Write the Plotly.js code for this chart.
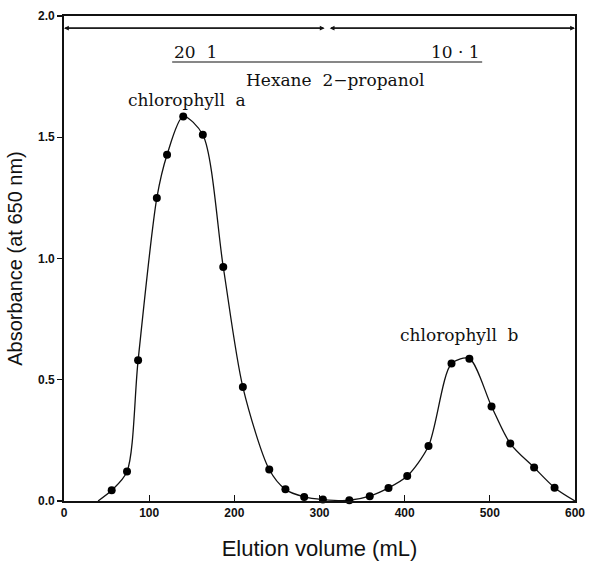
<!DOCTYPE html>
<html>
<head>
<meta charset="utf-8">
<script src="https://cdn.plot.ly/plotly-3.0.1.min.js"></script>
<style>html,body{margin:0;padding:0;background:#fff;}#chart{width:589px;height:568px;}</style>
</head>
<body>
<div id="chart"></div>
<script>
// Measured fractions: elution volume (mL) and absorbance at 650 nm
const elutionVolume = [56, 74, 87, 109, 121, 140, 163, 187, 210, 241, 260, 282, 304,
                       335, 359, 381, 403, 428, 455, 476, 502, 524, 552, 576];
const absorbance    = [0.044, 0.122, 0.58, 1.25, 1.428, 1.586, 1.51, 0.965, 0.47, 0.13, 0.048, 0.017, 0.006,
                       0.003, 0.02, 0.054, 0.103, 0.227, 0.567, 0.587, 0.39, 0.237, 0.138, 0.055];
// Curve end points (where the trace meets the baseline)
const curveStartX = [40],  curveStartY = [0];
const curveEndX   = [600], curveEndY   = [0];
// Axis ticks
const xTicks = [0, 100, 200, 300, 400, 500, 600];
const yTicks = [0, 0.5, 1.0, 1.5, 2.0];

const curveX = curveStartX.concat(elutionVolume, curveEndX);
const curveY = curveStartY.concat(absorbance, curveEndY);

const serif = {family: 'DejaVu Serif, Liberation Serif, serif', size: 17, color: '#111'};
const nb = '\u00a0';

const traces = [
  {x: curveX, y: curveY, mode: 'lines', type: 'scatter',
   line: {color: '#111', width: 1.3, shape: 'spline', smoothing: 0.8},
   hoverinfo: 'skip', showlegend: false, cliponaxis: true},
  {x: elutionVolume, y: absorbance, mode: 'markers', type: 'scatter',
   marker: {color: '#000', size: 8}, showlegend: false, cliponaxis: false}
];

const arrowAnn = (x0, x1) => ({
  x: x1, y: 1.95, ax: x0, ay: 1.95, xref: 'x', yref: 'y', axref: 'x', ayref: 'y',
  text: '', showarrow: true, arrowhead: 2, arrowsize: 0.8, arrowwidth: 1.2, arrowcolor: '#111',
  standoff: 0, startstandoff: 0
});

const layout = {
  width: 589, height: 568,
  margin: {l: 64, r: 14, t: 16, b: 67},
  paper_bgcolor: '#fff', plot_bgcolor: '#fff',
  showlegend: false,
  xaxis: {
    range: [0, 600], tickvals: xTicks, ticktext: xTicks.map(String),
    ticks: 'inside', ticklen: 6, tickwidth: 1.2, tickcolor: '#111',
    showline: true, linecolor: '#111', linewidth: 1.8, mirror: true,
    showgrid: false, zeroline: false,
    tickfont: {family: 'Liberation Sans, Arial, sans-serif', size: 12, color: '#111', weight: 'bold'},
    title: {text: 'Elution volume (mL)', standoff: 21,
            font: {family: 'Liberation Sans, Arial, sans-serif', size: 22, color: '#111'}}
  },
  yaxis: {
    range: [0, 2.0], tickvals: yTicks, tickformat: '.1f',
    ticks: 'outside', ticklen: 5, tickwidth: 1.2, tickcolor: '#111',
    showline: true, linecolor: '#111', linewidth: 1.8, mirror: true,
    showgrid: false, zeroline: false,
    tickfont: {family: 'Liberation Sans, Arial, sans-serif', size: 12, color: '#111', weight: 'bold'},
    title: {text: 'Absorbance (at 650 nm)', standoff: 10,
            font: {family: 'Liberation Sans, Arial, sans-serif', size: 20, color: '#111'}}
  },
  shapes: [
    {type: 'line', xref: 'x', yref: 'y', x0: 127, x1: 491, y0: 1.81, y1: 1.81,
     line: {color: '#111', width: 1.1}}
  ],
  annotations: [
    arrowAnn(306, 0), arrowAnn(0, 306),
    arrowAnn(312, 600), arrowAnn(600, 312),
    {x: 127, y: 1.85, xref: 'x', yref: 'y', xanchor: 'left', yanchor: 'middle',
     text: '20' + nb + nb + '1', showarrow: false, font: serif},
    {x: 491, y: 1.85, xref: 'x', yref: 'y', xanchor: 'right', yanchor: 'middle',
     text: '10' + nb + '·' + nb + '1', showarrow: false, font: serif},
    {x: 318, y: 1.735, xref: 'x', yref: 'y', xanchor: 'center', yanchor: 'middle',
     text: 'Hexane' + nb + nb + '2\u2212propanol', showarrow: false, font: serif},
    {x: 144, y: 1.652, xref: 'x', yref: 'y', xanchor: 'center', yanchor: 'middle',
     text: 'chlorophyll' + nb + nb + 'a', showarrow: false, font: serif},
    {x: 464, y: 0.683, xref: 'x', yref: 'y', xanchor: 'center', yanchor: 'middle',
     text: 'chlorophyll' + nb + nb + 'b', showarrow: false, font: serif}
  ]
};

Plotly.newPlot('chart', traces, layout, {displayModeBar: false, staticPlot: true});
</script>
</body>
</html>
